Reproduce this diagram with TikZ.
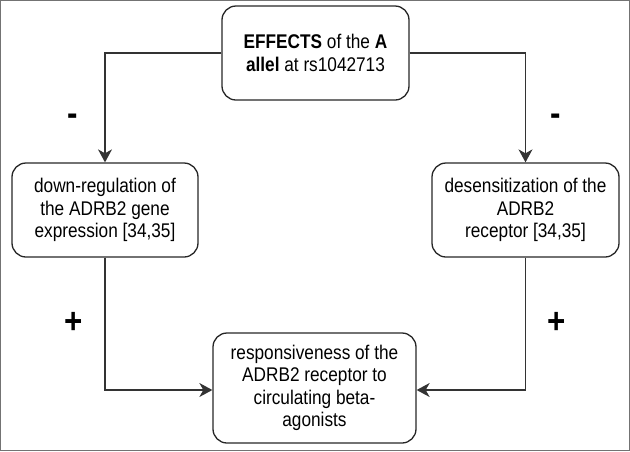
\documentclass[tikz,border=0pt]{standalone}
\usepackage{fontspec}
\setmainfont{Liberation Sans}[FakeStretch=0.87]
\usetikzlibrary{arrows.meta}
\begin{document}
\begin{tikzpicture}[x=1pt,y=-1pt,
  box/.style={draw=black!85,line width=1.3pt,rounded corners=14pt,align=center,inner sep=0pt,font=\fontsize{19.8}{22.5}\selectfont},
  conn/.style={draw=black!80,line width=1.2pt,-{Stealth[length=13pt,width=14pt,inset=4pt]}},
  sign/.style={font=\fontsize{36}{36}\selectfont\bfseries,inner sep=0pt}]
\draw[black!55,line width=1.2pt] (0.6,0.6) rectangle (629.4,450.4);
\useasboundingbox (0,0) rectangle (630,451);
\node[box,minimum width=187pt,minimum height=94pt] (top) at (315.5,53) {\textbf{EFFECTS} of the \textbf{A}\\\textbf{allel} at rs1042713};
\node[box,minimum width=186pt,minimum height=94pt] (left) at (105,210) {down-regulation of\\the ADRB2 gene\\expression [34,35]};
\node[box,minimum width=187pt,minimum height=94pt] (right) at (525.5,210) {desensitization of the\\ADRB2\\receptor [34,35]};
\node[box,minimum width=203pt,minimum height=110pt] (bot) at (314.5,388) {responsiveness of the\\ADRB2 receptor to\\circulating beta-\\agonists};
\draw[conn] (top.west) -| (left.north);
\draw[conn] (top.east) -| (right.north);
\draw[conn] (left.south) |- ([yshift=-2pt]bot.west);
\draw[conn] (right.south) |- ([yshift=-2pt]bot.east);
\node[sign] (m1) at (72.5,119.5) {-};
\node[sign] (m2) at (555.5,119.5) {-};
\node[sign] (p1) at (74,322.5) {+};
\node[sign] (p2) at (557,322.5) {+};
\end{tikzpicture}
\end{document}
